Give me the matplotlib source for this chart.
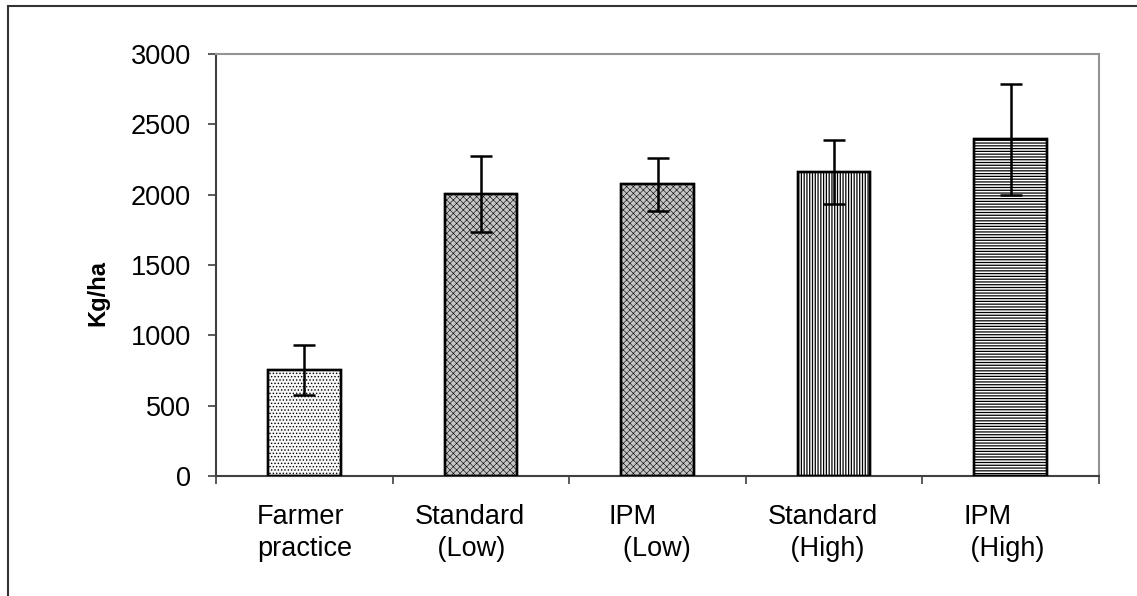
import matplotlib.pyplot as plt
import matplotlib.transforms as mtransforms
from matplotlib.patches import Rectangle

plt.rcParams['font.family'] = ['Liberation Sans', 'DejaVu Sans']

categories = ["Farmer\npractice", "Standard\n   (Low)", "IPM\n  (Low)",
              "Standard\n   (High)", "IPM\n (High)"]
yields = [754, 2005, 2074, 2159, 2394]
errors = [178, 268, 188, 228, 393]
y_ticks = [0, 500, 1000, 1500, 2000, 2500, 3000]

# fill look for each bar (face, hatch, hatch colour)
faces = ['#f8f8f8', '#c4c4c4', '#c4c4c4', 'white', 'white']
hatches = ['.....', 'xxxxx', 'xxxxx', '||||||', '------']
hatch_cols = ['#c4c4c4', '#b4b4b4', '#b4b4b4', '#999999', '#999999']
hatch_lw = [0.6, 0.4, 0.4, 0.9, 0.9]
label_shift = [0, -11, -8, -11, -7]  # px

fig = plt.figure(figsize=(11.37, 5.96), dpi=100)
ax = fig.add_axes([216 / 1137, 1 - 476 / 596, 883 / 1137, 422 / 596])

x = list(range(len(yields)))
for i in x:
    plt.rcParams['hatch.linewidth'] = hatch_lw[i]
    plt.rcParams['hatch.color'] = hatch_cols[i]
    ax.bar(i, yields[i], width=0.41, color=faces[i], hatch=hatches[i],
           edgecolor='black', linewidth=1.7, zorder=2)
    ax.bar(i, yields[i], width=0.41, color='none',
           edgecolor='black', linewidth=1.7, zorder=3)

ax.errorbar(x, yields, yerr=errors, fmt='none', ecolor='black',
            elinewidth=1.8, capsize=8, capthick=1.8, zorder=4)

ax.set_xlim(-0.5, len(yields) - 0.5)
ax.set_ylim(0, 3000)
ax.set_yticks(y_ticks)
ax.set_yticklabels([str(v) for v in y_ticks])
ax.set_xticks([i - 0.5 for i in range(len(yields) + 1)], minor=False)
ax.set_xticklabels([])
ax.set_xticks(x, minor=True)
ax.set_xticklabels(categories, minor=True, fontsize=19.5,
                   ha='center', multialignment='left', linespacing=1.3)
ax.tick_params(axis='x', which='minor', length=0, pad=20)
ax.tick_params(axis='x', which='major', length=6, width=1.2, color='#404040')
ax.tick_params(axis='y', length=6, width=1.2, color='#404040',
               labelsize=19.5, pad=12)

for lab, dx in zip(ax.get_xticklabels(minor=True), label_shift):
    off = mtransforms.ScaledTranslation(dx / 100, 0, fig.dpi_scale_trans)
    lab.set_transform(lab.get_transform() + off)

for s in ['left', 'bottom']:
    ax.spines[s].set_color('#404040')
    ax.spines[s].set_linewidth(1.5)
for s in ['top', 'right']:
    ax.spines[s].set_color('#939393')
    ax.spines[s].set_linewidth(1.5)

fig.text(98 / 1137, 1 - 293 / 596, 'Kg/ha', rotation=90, fontsize=17,
         fontweight='bold', ha='center', va='center')

# outer chart border
fig.patches.append(Rectangle((7.5 / 1137, -0.05), 1.1, 1.05 - 5.5 / 596,
                             transform=fig.transFigure, fill=False,
                             edgecolor='#333333', linewidth=1.5))

fig.savefig('out.png', dpi=100)
